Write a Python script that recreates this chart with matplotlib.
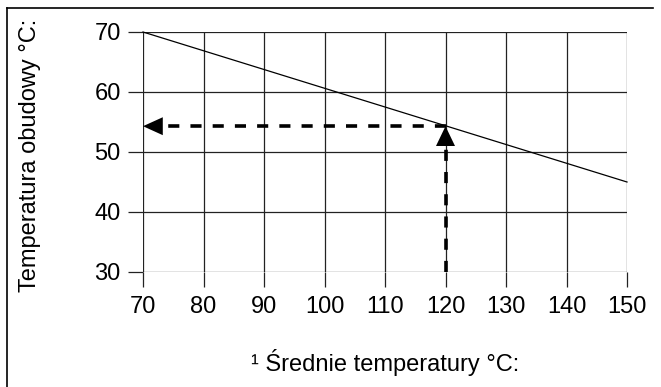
import matplotlib
matplotlib.use("Agg")
import matplotlib.pyplot as plt
from matplotlib.lines import Line2D

# data
line_x = [70, 150]
line_y = [70, 45]
read_x = 120
read_y = 54.3
x_ticks = [70, 80, 90, 100, 110, 120, 130, 140, 150]
y_ticks = [30, 40, 50, 60, 70]
x_label = "\u00b9 Średnie temperatury °C:"
y_label = "Temperatura obudowy °C:"

plt.rcParams["font.family"] = ["Liberation Sans", "DejaVu Sans"]
plt.rcParams["lines.scale_dashes"] = False

fig = plt.figure(figsize=(6.61, 3.87), dpi=100)
fig.patch.set_facecolor("white")
ax = fig.add_axes([143 / 661, 1 - 272 / 387, 484 / 661, 240 / 387])

ax.set_xlim(x_ticks[0], x_ticks[-1])
ax.set_ylim(y_ticks[0], y_ticks[-1])
ax.set_xticks(x_ticks)
ax.set_yticks(y_ticks)
for s in ax.spines.values():
    s.set_visible(False)
ax.grid(True, color="#222222", linewidth=0.9)
ax.tick_params(axis="both", length=11, width=0.9, color="#222222",
               labelsize=17, direction="out")
ax.tick_params(axis="x", pad=6)
ax.tick_params(axis="y", pad=5)
ax.set_axisbelow(True)

# main line
ax.plot(line_x, line_y, color="black", linewidth=0.9, clip_on=False)

# dashed reading lines
hx0 = line_x[0] + 2.4
ax.plot([read_x, hx0], [read_y, read_y], color="black", linewidth=2.6,
        dashes=(8, 8), dash_capstyle="butt")
vy0 = read_y - 2.4
ax.plot([read_x, read_x], [y_ticks[0], vy0], color="black", linewidth=2.6,
        dashes=(8, 8), dash_capstyle="butt")

# arrow heads
ax.annotate("", xy=(line_x[0], read_y), xytext=(hx0 + 0.3, read_y),
            arrowprops=dict(arrowstyle="-|>,head_length=0.75,head_width=0.34",
                            color="black", lw=0, mutation_scale=19,
                            shrinkA=0, shrinkB=0))
ax.annotate("", xy=(read_x, read_y), xytext=(read_x, vy0 - 0.3),
            arrowprops=dict(arrowstyle="-|>,head_length=0.75,head_width=0.36",
                            color="black", lw=0, mutation_scale=19,
                            shrinkA=0, shrinkB=0))

# labels
fig.text(385 / 661, 1 - 363 / 387, x_label, ha="center", va="center",
         fontsize=17)
fig.text(30 / 661, 1 - 155 / 387, y_label, ha="center", va="center",
         rotation=90, fontsize=17)

# partial outer frame (top and left)
fig.add_artist(Line2D([7 / 661, 7 / 661], [0, 1 - 8 / 387],
                      transform=fig.transFigure, color="black", linewidth=1.2))
fig.add_artist(Line2D([7 / 661, 653 / 661], [1 - 8 / 387, 1 - 8 / 387],
                      transform=fig.transFigure, color="black", linewidth=1.2))

fig.savefig("out.png", dpi=100)
